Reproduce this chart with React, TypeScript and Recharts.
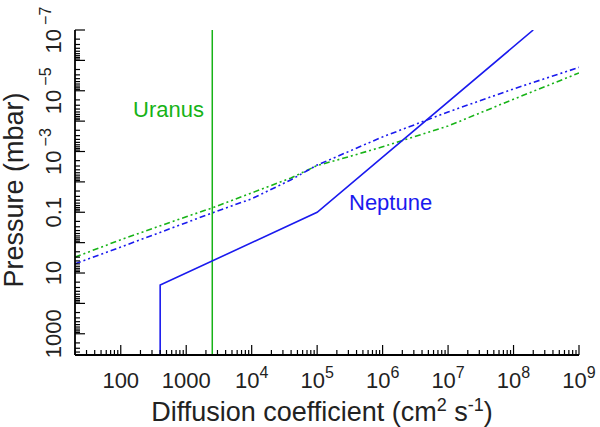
import React from 'react'
import { ComposedChart, Line, XAxis, YAxis } from 'recharts'

const W = 600
const H = 427
const BLUE = '#1a1aee'
const GREEN = '#17b317'
const FONT = '"Liberation Sans", Arial, Helvetica, sans-serif'

const X_DOMAIN: [number, number] = [20, 1e9]
const Y_DOMAIN: [number, number] = [1e-7, 5000]

// labelled ticks
const xLabelTicks = [100, 1000, 1e4, 1e5, 1e6, 1e7, 1e8, 1e9]
const yLabelTicks = [1e-7, 1e-5, 1e-3, 0.1, 10, 1000]

// Uranus eddy profile (green dash-dot-dot)
const uranusK = [20, 100, 1000, 2500, 1e4, 4e4, 1e5, 3e5, 1e6, 1e7, 1e8, 1e9]
const uranusP = [3.0, 0.8, 0.14, 0.072, 0.023, 7.4e-3, 2.9e-3, 1.5e-3, 7e-4, 1.45e-4, 1.9e-5, 2.6e-6]

// Neptune eddy profile (blue dash-dot-dot)
const neptuneK = [20, 100, 1000, 2500, 1e4, 4e4, 1e5, 1e6, 1e7, 1e8, 1e9]
const neptuneP = [5.0, 1.4, 0.22, 0.105, 0.036, 8.5e-3, 2.8e-3, 3.3e-4, 5e-5, 8.7e-6, 1.7e-6]

// Neptune solid profile
const neptuneSolidK = [400, 400, 1e5, 2e8]
const neptuneSolidP = [5000, 25, 0.1, 1e-7]

// Uranus constant value
const uranusConstK = [2500, 2500]
const uranusConstP = [1e-7, 5000]

const rows = (ks: number[], ps: number[]) => ks.map((k, i) => ({ k, p: ps[i] }))

const dashDotDot = '6 3 2 3 2 3'

const logTicks = (lo: number, hi: number) => {
  const out: number[] = []
  for (let e = Math.floor(Math.log10(lo)); e <= Math.ceil(Math.log10(hi)); e++) {
    for (let d = 1; d <= 9; d++) {
      const v = d * Math.pow(10, e)
      if (v >= lo * 0.9999 && v <= hi * 1.0001) out.push(v)
    }
  }
  return out
}

const xTicks = logTicks(X_DOMAIN[0], X_DOMAIN[1])
const yTicks = logTicks(Y_DOMAIN[0], Y_DOMAIN[1])

const isMajor = (v: number) => Math.abs(Math.log10(v) - Math.round(Math.log10(v))) < 1e-6
const hasLabel = (v: number, list: number[]) =>
  list.some(t => Math.abs(Math.log10(t) - Math.log10(v)) < 1e-6)

const MAJOR = 10
const MINOR = 5
const TICK_FS = 22
const SUP_FS = 16

const labelParts = (v: number, small: number[]) => {
  if (small.some(s => Math.abs(s - v) / s < 1e-6)) return { base: String(v), sup: '' }
  const e = Math.round(Math.log10(v))
  return { base: '10', sup: e < 0 ? '\u2212' + String(-e) : String(e) }
}

const BottomTick = (props: any) => {
  const { x, y, payload } = props
  const v = payload.value
  const len = isMajor(v) ? MAJOR : MINOR
  const show = hasLabel(v, xLabelTicks)
  const lp = labelParts(v, [100, 1000])
  return (
    <g>
      <line x1={x} x2={x} y1={y} y2={y - len} stroke="#000" strokeWidth={1.2} />
      {show && (
        <text x={x} y={y + 33} textAnchor="middle" fontFamily={FONT} fontSize={TICK_FS} fill="#222">
          <tspan>{lp.base}</tspan>
          {lp.sup && <tspan dy={-10} fontSize={SUP_FS}>{lp.sup}</tspan>}
        </text>
      )}
    </g>
  )
}

const TopTick = (props: any) => {
  const { x, y, payload } = props
  const len = isMajor(payload.value) ? MAJOR : MINOR
  return <line x1={x} x2={x} y1={y} y2={y + len} stroke="#000" strokeWidth={1.2} />
}

const LeftTick = (props: any) => {
  const { x, y, payload } = props
  const v = payload.value
  const len = isMajor(v) ? MAJOR : MINOR
  const show = hasLabel(v, yLabelTicks)
  const lp = labelParts(v, [0.1, 10, 1000])
  const bx = x - 14
  return (
    <g>
      <line x1={x} x2={x + len} y1={y} y2={y} stroke="#000" strokeWidth={1.2} />
      {show && (
        <text
          x={bx}
          y={y}
          transform={`rotate(-90, ${bx}, ${y})`}
          textAnchor="middle"
          fontFamily={FONT}
          fontSize={TICK_FS}
          fill="#222"
        >
          <tspan>{lp.base}</tspan>
          {lp.sup && <tspan dx={4} dy={-10} fontSize={SUP_FS}>{lp.sup}</tspan>}
        </text>
      )}
    </g>
  )
}

const RightTick = (props: any) => {
  const { x, y, payload } = props
  const len = isMajor(payload.value) ? MAJOR : MINOR
  return <line x1={x} x2={x - len} y1={y} y2={y} stroke="#000" strokeWidth={1.2} />
}

const axisLine = { stroke: '#000', strokeWidth: 1.8 }

export default function App() {
  return (
    <div style={{ position: 'absolute', left: 0, top: 0, width: W, height: H, background: '#fff' }}>
      <ComposedChart width={W} height={H} margin={{ top: 30, right: 21, bottom: 0, left: 0 }}>
        <XAxis
          xAxisId="b"
          dataKey="k"
          type="number"
          scale="log"
          domain={X_DOMAIN}
          allowDataOverflow
          ticks={xTicks}
          interval={0}
          tickSize={0}
          tickMargin={0}
          height={72}
          axisLine={axisLine}
          tickLine={false}
          tick={(p: any) => <BottomTick {...p} />}
        />
        <XAxis
          xAxisId="t"
          orientation="top"
          type="number"
          scale="log"
          domain={X_DOMAIN}
          allowDataOverflow
          ticks={xTicks}
          interval={0}
          tickSize={0}
          tickMargin={0}
          height={0}
          axisLine={axisLine}
          tickLine={false}
          tick={(p: any) => <TopTick {...p} />}
        />
        <YAxis
          yAxisId="l"
          dataKey="p"
          type="number"
          scale="log"
          domain={Y_DOMAIN}
          allowDataOverflow
          reversed
          ticks={yTicks}
          interval={0}
          tickSize={0}
          tickMargin={0}
          width={75}
          axisLine={axisLine}
          tickLine={false}
          tick={(p: any) => <LeftTick {...p} />}
        />
        <YAxis
          yAxisId="r"
          orientation="right"
          type="number"
          scale="log"
          domain={Y_DOMAIN}
          allowDataOverflow
          reversed
          ticks={yTicks}
          interval={0}
          tickSize={0}
          tickMargin={0}
          width={0}
          axisLine={axisLine}
          tickLine={false}
          tick={(p: any) => <RightTick {...p} />}
        />
        <Line
          xAxisId="b"
          yAxisId="l"
          data={rows(uranusK, uranusP)}
          dataKey="p"
          type="linear"
          stroke={GREEN}
          strokeWidth={1.6}
          strokeDasharray={dashDotDot}
          dot={false}
          activeDot={false}
          isAnimationActive={false}
        />
        <Line
          xAxisId="b"
          yAxisId="l"
          data={rows(neptuneK, neptuneP)}
          dataKey="p"
          type="linear"
          stroke={BLUE}
          strokeWidth={1.6}
          strokeDasharray={dashDotDot}
          dot={false}
          activeDot={false}
          isAnimationActive={false}
        />
        <Line
          xAxisId="b"
          yAxisId="l"
          data={rows(uranusConstK, uranusConstP)}
          dataKey="p"
          type="linear"
          stroke={GREEN}
          strokeWidth={1.5}
          dot={false}
          activeDot={false}
          isAnimationActive={false}
        />
        <Line
          xAxisId="b"
          yAxisId="l"
          data={rows(neptuneSolidK, neptuneSolidP)}
          dataKey="p"
          type="linear"
          stroke={BLUE}
          strokeWidth={1.6}
          dot={false}
          activeDot={false}
          isAnimationActive={false}
        />
      </ComposedChart>
      <svg
        width={W}
        height={H}
        style={{ position: 'absolute', left: 0, top: 0, pointerEvents: 'none' }}
      >
        <text x={133} y={117} fontFamily={FONT} fontSize={22} fill={GREEN}>Uranus</text>
        <text x={349} y={210} fontFamily={FONT} fontSize={22} fill={BLUE}>Neptune</text>
        <text
          x={23}
          y={190}
          transform="rotate(-90, 23, 190)"
          textAnchor="middle"
          fontFamily={FONT}
          fontSize={27}
          fill="#222"
        >
          Pressure (mbar)
        </text>
        <text x={322} y={421} textAnchor="middle" fontFamily={FONT} fontSize={27} fill="#222">
          <tspan>Diffusion coefficient (cm</tspan>
          <tspan dy={-10} fontSize={18}>2</tspan>
          <tspan dy={10}> s</tspan>
          <tspan dy={-10} fontSize={18}>-1</tspan>
          <tspan dy={10}>)</tspan>
        </text>
      </svg>
    </div>
  )
}
